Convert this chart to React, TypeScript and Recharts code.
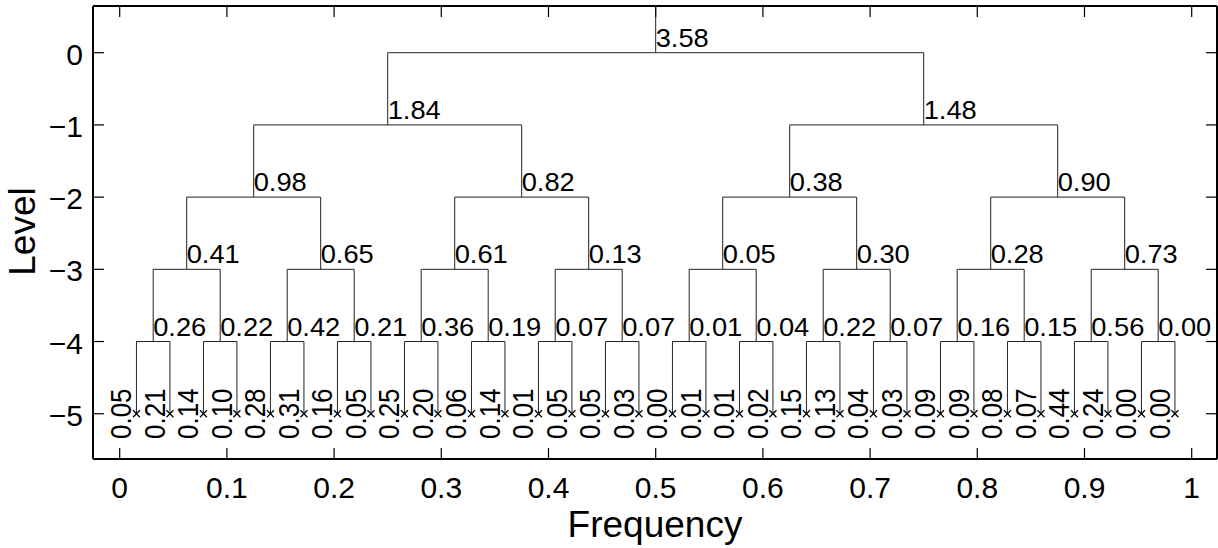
import React from 'react';
import { ComposedChart, Line, Scatter, XAxis, YAxis } from 'recharts';

const xTicks = [0, 0.1, 0.2, 0.3, 0.4, 0.5, 0.6, 0.7, 0.8, 0.9, 1];
const xTickLabels = ['0', '0.1', '0.2', '0.3', '0.4', '0.5', '0.6', '0.7', '0.8', '0.9', '1'];
const yTicks = [0, -1, -2, -3, -4, -5];
const yTickLabels = ['0', '\u22121', '\u22122', '\u22123', '\u22124', '\u22125'];

// node values per level of the packet tree (level 0 = root)
const level0 = [3.58];
const level1 = [1.84, 1.48];
const level2 = [0.98, 0.82, 0.38, 0.9];
const level3 = [0.41, 0.65, 0.61, 0.13, 0.05, 0.3, 0.28, 0.73];
const level4 = [0.26, 0.22, 0.42, 0.21, 0.36, 0.19, 0.07, 0.07, 0.01, 0.04, 0.22, 0.07, 0.16, 0.15, 0.56, 0.0];
const level5 = [
  0.05, 0.21, 0.14, 0.1, 0.28, 0.31, 0.16, 0.05, 0.25, 0.2, 0.06, 0.14, 0.01, 0.05, 0.05, 0.03,
  0.0, 0.01, 0.01, 0.02, 0.15, 0.13, 0.04, 0.03, 0.09, 0.09, 0.08, 0.07, 0.44, 0.24, 0.0, 0.0,
];
const levels = [level0, level1, level2, level3, level4, level5];

const FONT = '"Liberation Sans", Arial, Helvetica, sans-serif';
const X_DOMAIN: [number, number] = [-0.0249, 1.0236];
const Y_DOMAIN: [number, number] = [-5.627, 0.647];

interface Pt {
  x: number;
  y: number | null;
  v?: number;
  leaf?: boolean;
}

// centre frequency of band k at depth d
const bandCentre = (d: number, k: number) => (2 * k + 1) / Math.pow(2, d + 1);

const treeLines: Pt[] = [{ x: 0.5, y: Y_DOMAIN[1] }, { x: 0.5, y: 0 }, { x: 0.5, y: null }];
for (let d = 0; d < levels.length - 1; d++) {
  for (let k = 0; k < levels[d].length; k++) {
    const xl = bandCentre(d + 1, 2 * k);
    const xr = bandCentre(d + 1, 2 * k + 1);
    treeLines.push(
      { x: xl, y: -d - 1 },
      { x: xl, y: -d },
      { x: xr, y: -d },
      { x: xr, y: -d - 1 },
      { x: xr, y: null },
    );
  }
}

const nodes: Pt[] = [];
levels.forEach((vals, d) =>
  vals.forEach((v, k) => nodes.push({ x: bandCentre(d, k), y: -d, v, leaf: d === levels.length - 1 })),
);
const leaves = nodes.filter((n) => n.leaf);

const NodeLabel = (p: any) => {
  const { cx, cy, payload } = p;
  const txt = (payload.v as number).toFixed(2);
  if (payload.leaf) {
    return (
      <text
        transform={`translate(${cx - 5},${cy}) scale(1.1,1) rotate(-90)`}
        textAnchor="middle"
        fontSize={26}
        fontFamily={FONT}
        fill="#000"
      >
        {txt}
      </text>
    );
  }
  return (
    <text x={cx} y={cy - 6} fontSize={26} fontFamily={FONT} fill="#000" transform={`translate(${cx * -0.05},0) scale(1.05,1)`}>
      {txt}
    </text>
  );
};

const LeafMark = (p: any) => {
  const { cx, cy } = p;
  return (
    <g stroke="#000" strokeWidth={1.2}>
      <line x1={cx - 3.5} y1={cy - 3.5} x2={cx + 3.5} y2={cy + 3.5} />
      <line x1={cx - 3.5} y1={cy + 3.5} x2={cx + 3.5} y2={cy - 3.5} />
    </g>
  );
};

const BottomTick = (p: any) => {
  const { x, y, index } = p;
  return (
    <g>
      <line x1={x} x2={x} y1={y} y2={y - 11} stroke="#000" strokeWidth={1.2} />
      <text x={x} y={y + 39} textAnchor="middle" fontSize={30} fontFamily={FONT} fill="#000">
        {xTickLabels[index]}
      </text>
    </g>
  );
};

const TopTick = (p: any) => <line x1={p.x} x2={p.x} y1={p.y} y2={p.y + 11} stroke="#000" strokeWidth={1.2} />;

const LeftTick = (p: any) => {
  const { x, y, index } = p;
  return (
    <g>
      <line x1={x} x2={x + 11} y1={y} y2={y} stroke="#000" strokeWidth={1.2} />
      <text x={x - 10} y={y + 12} textAnchor="end" fontSize={30} fontFamily={FONT} fill="#000">
        {yTickLabels[index]}
      </text>
    </g>
  );
};

const RightTick = (p: any) => <line x1={p.x} x2={p.x - 11} y1={p.y} y2={p.y} stroke="#000" strokeWidth={1.2} />;

const axisLine = { stroke: '#000', strokeWidth: 2 };

export default function App() {
  return (
    <div style={{ position: 'absolute', left: 0, top: 0, background: '#fff' }}>
      <ComposedChart width={1218} height={548} margin={{ top: 5, right: 0, bottom: 9, left: 33 }}>
        <XAxis
          xAxisId="b"
          type="number"
          dataKey="x"
          domain={X_DOMAIN}
          allowDataOverflow
          ticks={xTicks}
          interval={0}
          height={80}
          tickSize={0}
          tickMargin={0}
          tickLine={false}
          axisLine={axisLine}
          tick={BottomTick}
          label={(lp: any) => {
            const vb = lp.viewBox;
            return (
              <text x={vb.x + vb.width / 2} y={vb.y + 78} textAnchor="middle" fontSize={37} fontFamily={FONT} fill="#000">
                Frequency
              </text>
            );
          }}
        />
        <XAxis
          xAxisId="t"
          orientation="top"
          type="number"
          dataKey="x"
          domain={X_DOMAIN}
          allowDataOverflow
          ticks={xTicks}
          interval={0}
          height={1}
          tickSize={0}
          tickMargin={0}
          tickLine={false}
          axisLine={axisLine}
          tick={TopTick}
        />
        <YAxis
          yAxisId="l"
          type="number"
          dataKey="y"
          domain={Y_DOMAIN}
          allowDataOverflow
          ticks={yTicks}
          interval={0}
          width={60}
          tickSize={0}
          tickMargin={0}
          tickLine={false}
          axisLine={axisLine}
          tick={LeftTick}
          label={(lp: any) => {
            const vb = lp.viewBox;
            const cy = vb.y + vb.height / 2 - 1;
            return (
              <text transform={`translate(35,${cy}) rotate(-90)`} textAnchor="middle" fontSize={37} fontFamily={FONT} fill="#000">
                Level
              </text>
            );
          }}
        />
        <YAxis
          yAxisId="r"
          orientation="right"
          type="number"
          dataKey="y"
          domain={Y_DOMAIN}
          allowDataOverflow
          ticks={yTicks}
          interval={0}
          width={1}
          tickSize={0}
          tickMargin={0}
          tickLine={false}
          axisLine={axisLine}
          tick={RightTick}
        />
        <Line
          xAxisId="b"
          yAxisId="l"
          data={treeLines}
          dataKey="y"
          type="linear"
          stroke="#222"
          strokeWidth={1}
          dot={false}
          activeDot={false}
          connectNulls={false}
          isAnimationActive={false}
        />
        <Scatter xAxisId="b" yAxisId="l" data={leaves} dataKey="y" shape={LeafMark} isAnimationActive={false} />
        <Scatter xAxisId="b" yAxisId="l" data={nodes} dataKey="y" shape={NodeLabel} isAnimationActive={false} />
      </ComposedChart>
    </div>
  );
}
